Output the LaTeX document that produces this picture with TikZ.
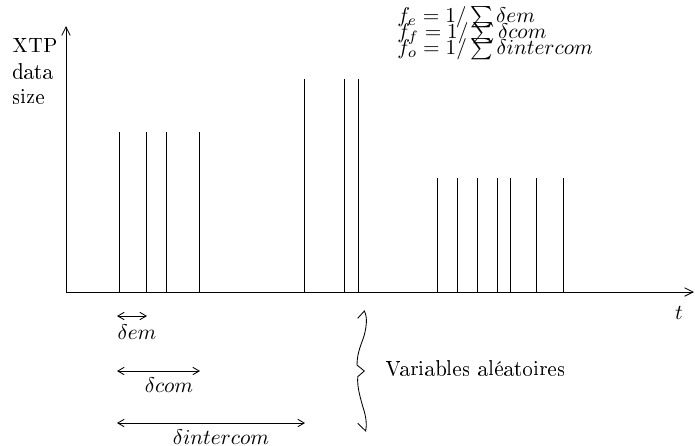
\documentclass[tikz,border=0pt]{standalone}
\usepackage{amsmath,amssymb}
\usepackage[T1]{fontenc}
\usetikzlibrary{arrows.meta,positioning}

\begin{document}
\begin{tikzpicture}[
    x=0.47pt, y=-0.47pt,
    axis/.style={draw=black, line width=0.4pt, -{Straight Barb[length=4pt,width=4pt]}},
    spike/.style={draw=black, line width=0.4pt},
    span/.style={draw=black, line width=0.4pt, {Straight Barb[length=3pt,width=3.5pt]}-{Straight Barb[length=3pt,width=3.5pt]}},
    lbl/.style={inner sep=0pt, font=\normalsize},
    brace/.style={draw=black, line width=0.4pt}
]
    \useasboundingbox (0,0) rectangle (695,445);

    % --- AXES ---
    \coordinate (O) at (66,292);
    \coordinate (Ytop) at (66,26);
    \coordinate (Xend) at (694,292);
    \draw[axis] (O) -- (Ytop);
    \draw[axis] (O) -- (Xend);
    \node[lbl, align=left] (ylabel) at (35,71) {XTP\\data\\size};
    \node[lbl] (tlabel) at (679,313) {$t$};

    % --- PACKETS ---
    \foreach \x in {119, 146, 166, 199} {
        \draw[spike] (\x,292) -- (\x,132);
    }
    \foreach \x in {304, 344, 358} {
        \draw[spike] (\x,292) -- (\x,79);
    }
    \foreach \x in {437, 457, 477, 497, 510, 536, 563} {
        \draw[spike] (\x,292) -- (\x,178);
    }

    % --- FREQUENCES ---
    \node[lbl, anchor=base west] (fe) at (397,22) {$f_e = 1/\sum \delta em$};
    \node[lbl, anchor=base west] (ff) at (397,38) {$f_f = 1/\sum \delta com$};
    \node[lbl, anchor=base west] (fo) at (397,54) {$f_o = 1/\sum \delta intercom$};

    % --- INTERVALLES ---
    \coordinate (em0) at (117,316);
    \coordinate (em1) at (147,316);
    \coordinate (com0) at (117,371);
    \coordinate (com1) at (200,371);
    \coordinate (int0) at (117,423);
    \coordinate (int1) at (305,423);
    \draw[span] (em0) -- (em1);
    \draw[span] (com0) -- (com1);
    \draw[span] (int0) -- (int1);
    \node[lbl] (dem) at (137,332) {$\delta em$};
    \node[lbl] (dcom) at (169,385) {$\delta com$};
    \node[lbl] (dint) at (221,437) {$\delta intercom$};

    % accolade
    \draw[brace] (357.7,318.3) -- (364.3,311) .. controls (368,318) and (366,328) .. (364.3,335)
        .. controls (362,343) and (357,352) .. (357,365) -- (364.3,371) -- (357.7,376.7)
        .. controls (357,388) and (361,400) .. (363.3,408.3)
        .. controls (366,416) and (367,425) .. (365.7,431) -- (357.7,423.3);
    \node[lbl, anchor=west] (alea) at (385,368) {Variables aléatoires};
\end{tikzpicture}
\end{document}
